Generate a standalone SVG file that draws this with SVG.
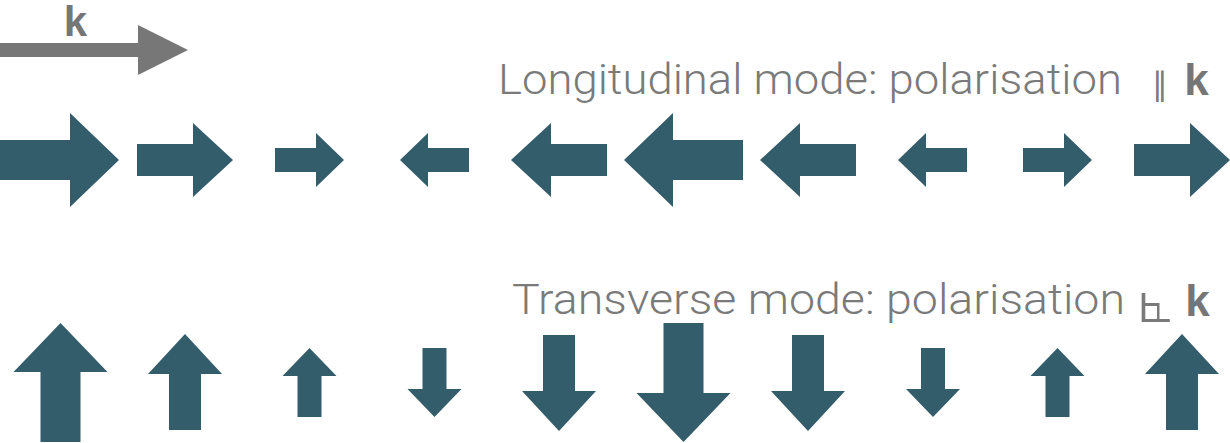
<svg xmlns="http://www.w3.org/2000/svg" xmlns:xlink="http://www.w3.org/1999/xlink" width="1230" height="443" viewBox="0 0 1230 443">
  <style>
    .a { fill: #335d6a; }
    .lbl { fill: #7a7a7a; font-family: Roboto, "Open Sans", "Liberation Sans", sans-serif; font-weight: 300; font-size: 43px; }
    .kb { fill: #767676; font-family: "Liberation Sans", Arial, sans-serif; font-weight: bold; }
    .sym { fill: #7a7a7a; font-family: "DejaVu Sans", "Noto Sans", sans-serif; }
  </style>
  <defs>
    <polygon id="L" points="0,-20 70,-20 70,-47 119,0 70,47 70,20 0,20"/>
    <polygon id="M" points="0,-16 56,-16 56,-37 96,0 56,37 56,16 0,16"/>
    <polygon id="S" points="0,-12 41,-12 41,-27 69,0 41,27 41,12 0,12"/>
  </defs>
  <rect width="1230" height="443" fill="#ffffff"/>

  <g id="wavevector">
    <polygon points="0,43 138,43 138,25 188,50 138,75 138,57 0,57" fill="#777777"/>
    <text class="kb" x="75.5" y="36" font-size="42" text-anchor="middle">k</text>
  </g>

  <g id="longitudinal-label">
    <text class="lbl" x="498" y="94" textLength="624" lengthAdjust="spacingAndGlyphs">Longitudinal mode: polarisation</text>
    <text class="sym" x="1160" y="95" font-size="32" text-anchor="middle">∥</text>
    <text class="kb" x="1196.5" y="95" font-size="44" text-anchor="middle">k</text>
  </g>

  <g id="transverse-label">
    <text class="lbl" x="512" y="314" textLength="613" lengthAdjust="spacingAndGlyphs">Transverse mode: polarisation</text>
    <text class="sym" x="1155" y="322" font-size="58" text-anchor="middle">⦜</text>
    <text class="kb" x="1197.5" y="316" font-size="44" text-anchor="middle">k</text>
  </g>

  <g id="longitudinal-arrows" class="a">
    <use xlink:href="#L" href="#L" transform="translate(0,160)"/>
    <use xlink:href="#M" href="#M" transform="translate(137,160)"/>
    <use xlink:href="#S" href="#S" transform="translate(275,160)"/>
    <use xlink:href="#S" href="#S" transform="translate(469,160) scale(-1,1)"/>
    <use xlink:href="#M" href="#M" transform="translate(607,160) scale(-1,1)"/>
    <use xlink:href="#L" href="#L" transform="translate(743,160) scale(-1,1)"/>
    <use xlink:href="#M" href="#M" transform="translate(856,160) scale(-1,1)"/>
    <use xlink:href="#S" href="#S" transform="translate(967,160) scale(-1,1)"/>
    <use xlink:href="#S" href="#S" transform="translate(1023,160)"/>
    <use xlink:href="#M" href="#M" transform="translate(1134,160)"/>
  </g>

  <g id="transverse-arrows" class="a">
    <use xlink:href="#L" href="#L" transform="translate(60.5,442) rotate(-90)"/>
    <use xlink:href="#M" href="#M" transform="translate(185,430) rotate(-90)"/>
    <use xlink:href="#S" href="#S" transform="translate(309.5,417) rotate(-90)"/>
    <use xlink:href="#S" href="#S" transform="translate(434.5,348) rotate(90)"/>
    <use xlink:href="#M" href="#M" transform="translate(559,335) rotate(90)"/>
    <use xlink:href="#L" href="#L" transform="translate(683.5,323) rotate(90)"/>
    <use xlink:href="#M" href="#M" transform="translate(808,335) rotate(90)"/>
    <use xlink:href="#S" href="#S" transform="translate(933,348) rotate(90)"/>
    <use xlink:href="#S" href="#S" transform="translate(1057.5,417) rotate(-90)"/>
    <use xlink:href="#M" href="#M" transform="translate(1182,430) rotate(-90)"/>
  </g>
</svg>
